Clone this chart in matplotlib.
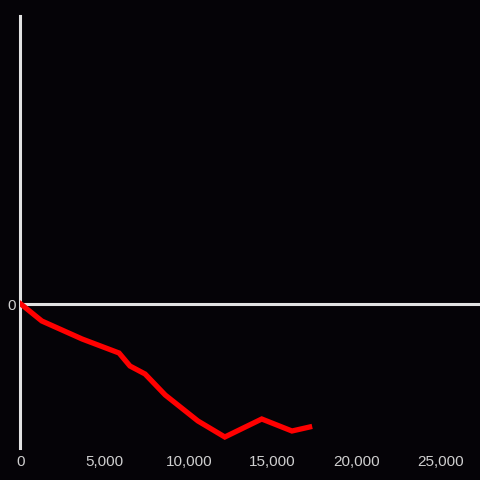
"""Red line over dark background with a zero baseline -> out.png."""

import matplotlib.pyplot as plt

# values
x_vals = [0, 1250, 3650, 5850, 6500, 7400, 8600, 10550, 12150, 14350, 16150, 17200]
y_vals = [0, -17, -35, -49, -62, -70, -91, -117, -133, -115, -127, -123]
x_ticks = [0, 5000, 10000, 15000, 20000, 25000]
x_tick_labels = ["0", "5,000", "10,000", "15,000", "20,000", "25,000"]
y_ticks = [0]
y_tick_labels = ["0"]

BG = "#050307"
AXIS = "#e2e2e2"
TEXT = "#cfcfcf"


def main():
    plt.rcParams["font.family"] = ["Liberation Sans", "DejaVu Sans"]
    fig = plt.figure(figsize=(4.8, 4.8), dpi=100, facecolor=BG)
    ax = fig.add_axes([20 / 480, 32 / 480, 460 / 480, 432 / 480])
    ax.set_facecolor(BG)

    ax.set_xlim(-50, 27350)
    ax.set_ylim(-144, 288)

    ax.axhline(0, color=AXIS, lw=2.2, zorder=1)
    ax.plot(x_vals, y_vals, color="#ff0000", lw=3.8,
            solid_joinstyle="miter", zorder=3)

    for side in ("top", "right", "bottom"):
        ax.spines[side].set_visible(False)
    ax.spines["left"].set_color(AXIS)
    ax.spines["left"].set_linewidth(2.2)

    ax.set_xticks(x_ticks, x_tick_labels)
    ax.set_yticks(y_ticks, y_tick_labels)
    ax.tick_params(axis="both", length=0, colors=TEXT, labelsize=11)
    ax.tick_params(axis="x", pad=5)
    ax.tick_params(axis="y", pad=3)

    fig.savefig("out.png", dpi=100, facecolor=BG)


if __name__ == "__main__":
    main()
